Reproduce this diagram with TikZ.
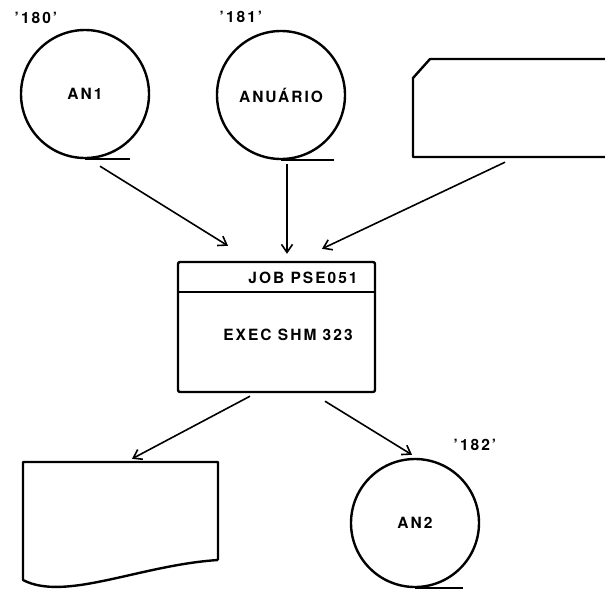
\documentclass[tikz,border=0pt]{standalone}
\usepackage{fontspec}
\setsansfont{TeX Gyre Heros}
\usetikzlibrary{arrows.meta,positioning}
\newcommand{\stamp}{\sffamily\bfseries\fontsize{15.5}{18}\selectfont\addfontfeature{LetterSpace=13}}
\tikzset{
  disk/.style={circle,draw,line width=2.4pt,minimum size=128pt,inner sep=0pt,font=\stamp},
  tag/.style={font=\stamp},
  flow/.style={-{Straight Barb[length=8pt,width=11pt]},line width=1.6pt},
  outline/.style={line width=2.4pt,line join=round},
}
\begin{document}
\begin{tikzpicture}[x=1pt,y=-1pt]
\useasboundingbox (0,0) rectangle (605,592);

% input files
\node[disk] (an1) at (85,94) {AN1};
\node[tag] at (36,18) {'180'};
\draw[outline] (an1.south) -- ++(45,0);

\node[disk] (anuario) at (281,95) {ANUÁRIO};
\node[tag] at (241,17) {'181'};
\draw[outline] (anuario.south) -- ++(53,0);

\node[minimum width=192pt,minimum height=98pt,inner sep=0pt] (tape) at (509,108) {};
\draw[outline] (610,59) -- (430,59) -- (413,78) -- (413,157) -- (610,157);

% job step
\node[draw,outline,rounded corners=2pt,minimum width=197pt,minimum height=130pt,inner sep=0pt] (job) at (276.5,327) {};
\draw[line width=1.8pt] ([shift={(0,31)}]job.north west) -- ([shift={(0,31)}]job.north east);
\node[tag] (jobname) at (303,278) {JOB PSE051};
\node[tag] (exec) at (288,335) {EXEC SHM 323};

% outputs
\node[minimum width=195pt,minimum height=118pt,inner sep=0pt] (doc) at (120.5,521) {};
\draw[outline] (218,560) -- (218,462) -- (23,462) -- (23,580)
  .. controls (65,602) and (140,565) .. (218,560);

\node[disk] (an2) at (415,523) {AN2};
\node[tag] at (475,445) {'182'};
\draw[outline] (an2.south) -- ++(48,0);

% flow
\draw[flow] ([shift={(15,7)}]an1.south) -- ([shift={(-48.5,-15)}]job.north);
\draw[flow] ([shift={(6,4)}]anuario.south) -- ([shift={(10.5,-7)}]job.north);
\draw[flow] ([shift={(-4,5)}]tape.south) -- ([shift={(45.5,-12)}]job.north);
\draw[flow] ([shift={(-26.5,3)}]job.south) -- ([shift={(11.5,-3)}]doc.north);
\draw[flow] ([shift={(48.5,8)}]job.south) -- ([shift={(-3,-3)}]an2.north);
\end{tikzpicture}
\end{document}
